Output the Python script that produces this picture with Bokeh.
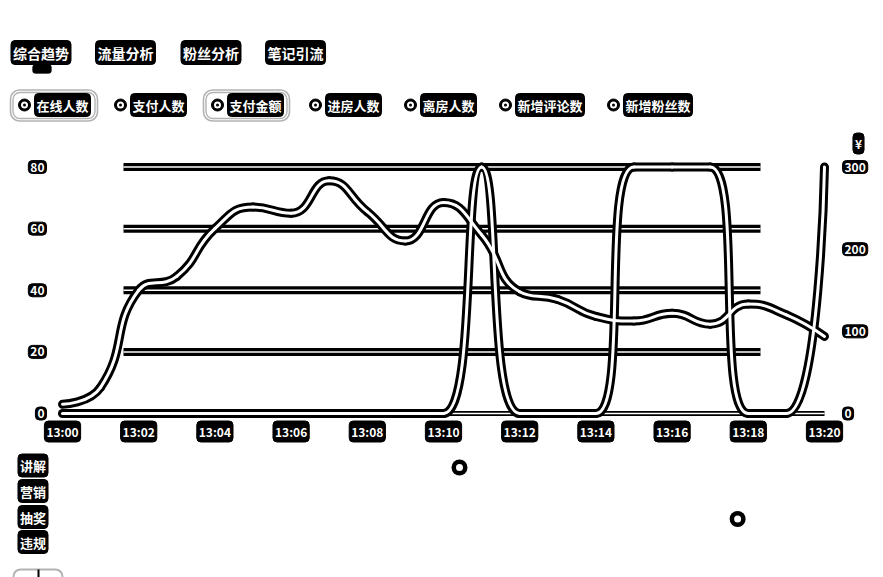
import math
from bokeh.plotting import figure
from bokeh.models import Range1d, BoxAnnotation
from bokeh.core.properties import value
from bokeh.embed import file_html
from bokeh.resources import INLINE

# ---------------- data ----------------
tabs = ["综合趋势", "流量分析", "粉丝分析", "笔记引流"]
legend_names = ["在线人数", "支付人数", "支付金额", "进房人数", "离房人数", "新增评论数", "新增粉丝数"]
legend_selected = [True, False, True, False, False, False, False]

minutes = list(range(21))  # 13:00 .. 13:20
online_users = [3, 8.5, 40, 44.5, 60, 67, 65, 75.5, 65.5, 56, 68.5, 58, 39.5,
                37, 31.5, 30, 32.5, 29, 35.5, 32, 25]
pay_amount = [0, 0, 0, 0, 0, 0, 0, 0, 0, 0, 0, 300, 0, 0, 0, 300, 300, 300, 0, 0, 300]

left_ticks = [0, 20, 40, 60, 80]
right_ticks = [0, 100, 200, 300]
x_tick_minutes = [0, 2, 4, 6, 8, 10, 12, 14, 16, 18, 20]
x_tick_labels = ["13:00", "13:02", "13:04", "13:06", "13:08", "13:10",
                 "13:12", "13:14", "13:16", "13:18", "13:20"]
right_unit = "¥"

event_rows = ["讲解", "营销", "抽奖", "违规"]
event_minute = [10.42, 17.72]
event_row = ["讲解", "抽奖"]

# ---------------- layout (pixels) ----------------
W, H = 883, 577
X0, X1 = 62, 824          # pixel of 13:00 and 13:20
Y0, YTOP = 413, 166.5     # pixel of value 0 and top value
kx = (X1 - X0) / 20.0
kyl = (Y0 - YTOP) / 80.0
kyr = (Y0 - YTOP) / 300.0

p = figure(width=W, height=H, x_range=Range1d(0, W), y_range=Range1d(H, 0),
           output_backend="svg", toolbar_location=None,
           x_axis_location=None, y_axis_location=None, min_border=0,
           outline_line_color=None, background_fill_color="white",
           border_fill_color="white")
p.xgrid.visible = False
p.ygrid.visible = False
p.extra_x_ranges = {"t": Range1d(-X0 / kx, (W - X0) / kx)}
p.extra_y_ranges = {"l": Range1d(-(H - Y0) / kyl, Y0 / kyl),
                    "r": Range1d(-(H - Y0) / kyr, Y0 / kyr)}

FONT = value("Noto Sans CJK SC")


def label(x, y, text, size, align="center", **kw):
    p.text(x=x, y=y, text=text, text_color="white", text_font=FONT,
           text_font_style="bold", text_font_size=size, text_align=align,
           text_baseline="middle", background_fill_color="black",
           border_line_color="black", border_line_width=1,
           border_radius=4, padding=2, **kw)


def smooth_beziers(xs, ys, sx, sy, smooth=0.5):
    """Control points like a smoothed category line (computed in pixel space)."""
    P = [(x * sx, y * sy) for x, y in zip(xs, ys)]
    n = len(P)
    out = {k: [] for k in ("x0", "y0", "x1", "y1", "cx0", "cy0", "cx1", "cy1")}
    cp0 = P[0]
    for i in range(1, n):
        x, y = P[i]
        px_, py_ = P[i - 1]
        if i == n - 1:
            cp1 = (x, y)
            nxt = None
        else:
            nx, ny = P[i + 1]
            lp = math.hypot(x - px_, y - py_)
            ln = math.hypot(nx - x, ny - y)
            vx, vy = nx - px_, ny - py_
            r = ln / (ln + lp)
            ncx = x + vx * smooth * r
            ncy = y + vy * smooth * r
            ncx = max(min(ncx, max(nx, x)), min(nx, x))
            ncy = max(min(ncy, max(ny, y)), min(ny, y))
            vx, vy = ncx - x, ncy - y
            c1x = x - vx * lp / ln
            c1y = y - vy * lp / ln
            c1x = max(min(c1x, max(px_, x)), min(px_, x))
            c1y = max(min(c1y, max(py_, y)), min(py_, y))
            vx, vy = x - c1x, y - c1y
            ncx = x + vx * ln / lp
            ncy = y + vy * ln / lp
            cp1 = (c1x, c1y)
            nxt = (ncx, ncy)
        out["x0"].append(px_ / sx); out["y0"].append(py_ / sy)
        out["x1"].append(x / sx); out["y1"].append(y / sy)
        out["cx0"].append(cp0[0] / sx); out["cy0"].append(cp0[1] / sy)
        out["cx1"].append(cp1[0] / sx); out["cy1"].append(cp1[1] / sy)
        cp0 = nxt
    return out


# ---------------- grid lines ----------------
grid_vals = left_ticks[1:]
p.segment(x0=[123] * len(grid_vals), x1=[760] * len(grid_vals), y0=grid_vals, y1=grid_vals,
          y_range_name="l", line_color="black", line_width=8)
p.segment(x0=[123] * len(grid_vals), x1=[760] * len(grid_vals), y0=grid_vals, y1=grid_vals,
          y_range_name="l", line_color="white", line_width=1.5)
# axis line
p.segment(x0=[minutes[0]], x1=[minutes[-1]], y0=[0], y1=[0], x_range_name="t",
          y_range_name="l", line_color="black", line_width=5)
p.segment(x0=[minutes[0]], x1=[minutes[-1]], y0=[0], y1=[0], x_range_name="t",
          y_range_name="l", line_color="white", line_width=1.5)

# ---------------- series ----------------
b_online = smooth_beziers(minutes, online_users, kx, kyl)
b_pay = smooth_beziers(minutes, pay_amount, kx, kyr)
for color, lw in (("black", 9), ("white", 3)):
    p.bezier(line_color=color, line_width=lw, line_cap="round",
             x_range_name="t", y_range_name="l", **b_online)
    p.bezier(line_color=color, line_width=lw, line_cap="round",
             x_range_name="t", y_range_name="r", **b_pay)

# ---------------- axis labels ----------------
label([46] * len(left_ticks), left_ticks, [str(v) for v in left_ticks], "12px",
      align="right", y_range_name="l")
label([842] * len(right_ticks), right_ticks, [str(v) for v in right_ticks], "12px",
      align="left", y_range_name="r")
label(x_tick_minutes, [431] * len(x_tick_minutes), x_tick_labels, "12px",
      x_range_name="t")
label([858], [143], [right_unit], "12px")

# ---------------- tabs ----------------
label([40.5, 125, 210.5, 295], [52] * len(tabs), tabs, "14px")
p.add_layout(BoxAnnotation(left=32, right=51, top=64, bottom=73, fill_color="black",
                           fill_alpha=1, line_color="black", border_radius=3))
p.segment(x0=[35], x1=[48], y0=[68.5], y1=[68.5], line_color="white", line_width=2)

# ---------------- legend ----------------
icon_x = [24, 120, 217, 315, 410, 505, 613]
LY = 104.5
p.scatter(icon_x, [LY] * 7, size=12, fill_color="black", line_color="black")
p.scatter(icon_x, [LY] * 7, size=7, fill_color="white", line_color=None)
p.scatter(icon_x, [LY] * 7, size=3, fill_color="black", line_color=None)
label([x + 10 for x in icon_x], [LY] * 7, legend_names, "13px", align="left")
sel_boxes = [(10, 97), (203, 289)]
for (l, r), sel in zip(sel_boxes, [s for s in legend_selected if s]):
    p.add_layout(BoxAnnotation(left=l, right=r, top=89.5, bottom=120.5, fill_alpha=0,
                               line_color="black", line_width=1.6, border_radius=9))
    p.add_layout(BoxAnnotation(left=l + 2.5, right=r - 2.5, top=92, bottom=118, fill_alpha=0,
                               line_color="black", line_width=1.4, border_radius=7))

# ---------------- event rows ----------------
row_y = {"讲解": 465, "营销": 490.5, "抽奖": 516.5, "违规": 541.5}
label([32.5] * len(event_rows), [row_y[r] for r in event_rows], event_rows, "13px")
ey = [row_y[r] + 2 for r in event_row]
p.scatter(event_minute, ey, size=16, fill_color="black", line_color=None, x_range_name="t")
p.scatter(event_minute, ey, size=7, fill_color="white", line_color=None, x_range_name="t")

# ---------------- partial bottom control ----------------
p.add_layout(BoxAnnotation(left=13, right=62, top=569, bottom=600, fill_alpha=0,
                           line_color="black", line_width=2, border_radius=7))
p.segment(x0=[38], x1=[38], y0=[569], y1=[578], line_color="black", line_width=2)

open("out.html", "w").write(file_html(p, INLINE))
